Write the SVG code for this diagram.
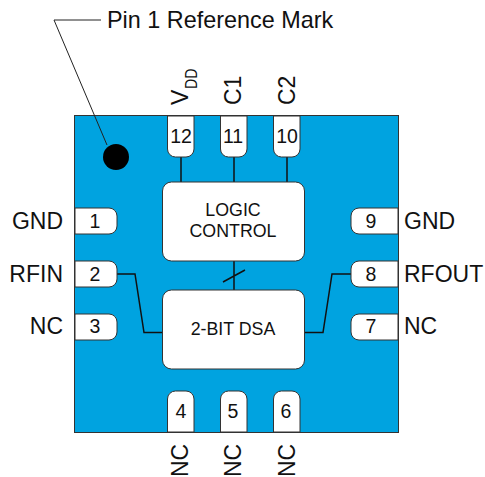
<svg xmlns="http://www.w3.org/2000/svg" width="485" height="477" viewBox="0 0 485 477">
<style>
text{font-family:"Liberation Sans",Arial,sans-serif;fill:#111}
.pkg{fill:#00a3e0;stroke:#333;stroke-width:1}
.pin,.blk{fill:#fff;stroke:#333;stroke-width:1}
.n{font-size:19.500px;text-anchor:middle}
.l{font-size:23px}
.c{font-size:23.400px}
.e{text-anchor:end}
.b{font-size:17.800px;text-anchor:middle}
.w{fill:none;stroke:#111;stroke-width:1.5}
.t{fill:none;stroke:#222;stroke-width:1}
</style>
<g id="package"><rect class="pkg" x="74.500" y="115.500" width="324" height="317"/></g>
<g id="mark"><circle cx="116" cy="157" r="13" fill="#000"/></g>
<g id="connectors">
<path class="t" d="M101 20H54L107 145"/>
<path class="w" d="M181 157V182M234 157V182M287 157V182M234 261V290M223 282L245 270M117 274H135L144 332.500H162M304 332.500H323L332 274H351"/>
</g>
<g id="callout"><text x="107" y="27.500" class="c">Pin 1 Reference Mark</text></g>
<g id="logic"><rect class="blk" x="162.500" y="182" width="142" height="79" rx="9"/><text class="b" x="233" y="216">LOGIC</text><text class="b" x="233" y="237">CONTROL</text></g>
<g id="dsa"><rect class="blk" x="162.500" y="290" width="142" height="79" rx="9"/><text class="b" x="233" y="335">2-BIT DSA</text></g>
<g id="pin1"><path class="pin" d="M75 208H109a8 8 0 0 1 8 8V226a8 8 0 0 1-8 8H75Z"/><text class="n" x="95" y="228">1</text><text class="l e" x="63" y="229">GND</text></g>
<g id="pin2"><path class="pin" d="M75 261H109a8 8 0 0 1 8 8V279a8 8 0 0 1-8 8H75Z"/><text class="n" x="95" y="281">2</text><text class="l e" x="63" y="282">RFIN</text></g>
<g id="pin3"><path class="pin" d="M75 314H109a8 8 0 0 1 8 8V332a8 8 0 0 1-8 8H75Z"/><text class="n" x="95" y="333">3</text><text class="l e" x="63" y="334">NC</text></g>
<g id="pin9"><path class="pin" d="M398 208H359a8 8 0 0 0-8 8V226a8 8 0 0 0 8 8H398Z"/><text class="n" x="371" y="228">9</text><text class="l" x="404" y="229">GND</text></g>
<g id="pin8"><path class="pin" d="M398 261H359a8 8 0 0 0-8 8V279a8 8 0 0 0 8 8H398Z"/><text class="n" x="371" y="281">8</text><text class="l" x="404" y="282">RFOUT</text></g>
<g id="pin7"><path class="pin" d="M398 314H359a8 8 0 0 0-8 8V332a8 8 0 0 0 8 8H398Z"/><text class="n" x="371" y="333">7</text><text class="l" x="404" y="334">NC</text></g>
<g id="pin12"><path class="pin" d="M167.500 116V149a8 8 0 0 0 8 8H186a8 8 0 0 0 8-8V116Z"/><text class="n" x="181" y="143">12</text><text class="l" transform="translate(188 105) rotate(-90)">V</text><text transform="translate(197 89) rotate(-90)" font-size="17px" textLength="20.500" lengthAdjust="spacingAndGlyphs">DD</text></g>
<g id="pin11"><path class="pin" d="M220.500 116V149a8 8 0 0 0 8 8H239a8 8 0 0 0 8-8V116Z"/><text class="n" x="233" y="143">11</text><text class="l" transform="translate(241 105) rotate(-90)">C1</text></g>
<g id="pin10"><path class="pin" d="M273.500 116V149a8 8 0 0 0 8 8H292a8 8 0 0 0 8-8V116Z"/><text class="n" x="287" y="143">10</text><text class="l" transform="translate(295 105) rotate(-90)">C2</text></g>
<g id="pin4"><path class="pin" d="M167.500 432V399a8 8 0 0 1 8-8H186a8 8 0 0 1 8 8V432Z"/><text class="n" x="181" y="418">4</text><text class="l" transform="translate(188 477) rotate(-90)">NC</text></g>
<g id="pin5"><path class="pin" d="M220.500 432V399a8 8 0 0 1 8-8H239a8 8 0 0 1 8 8V432Z"/><text class="n" x="233" y="418">5</text><text class="l" transform="translate(241 477) rotate(-90)">NC</text></g>
<g id="pin6"><path class="pin" d="M273.500 432V399a8 8 0 0 1 8-8H292a8 8 0 0 1 8 8V432Z"/><text class="n" x="286" y="418">6</text><text class="l" transform="translate(295 477) rotate(-90)">NC</text></g>
</svg>
